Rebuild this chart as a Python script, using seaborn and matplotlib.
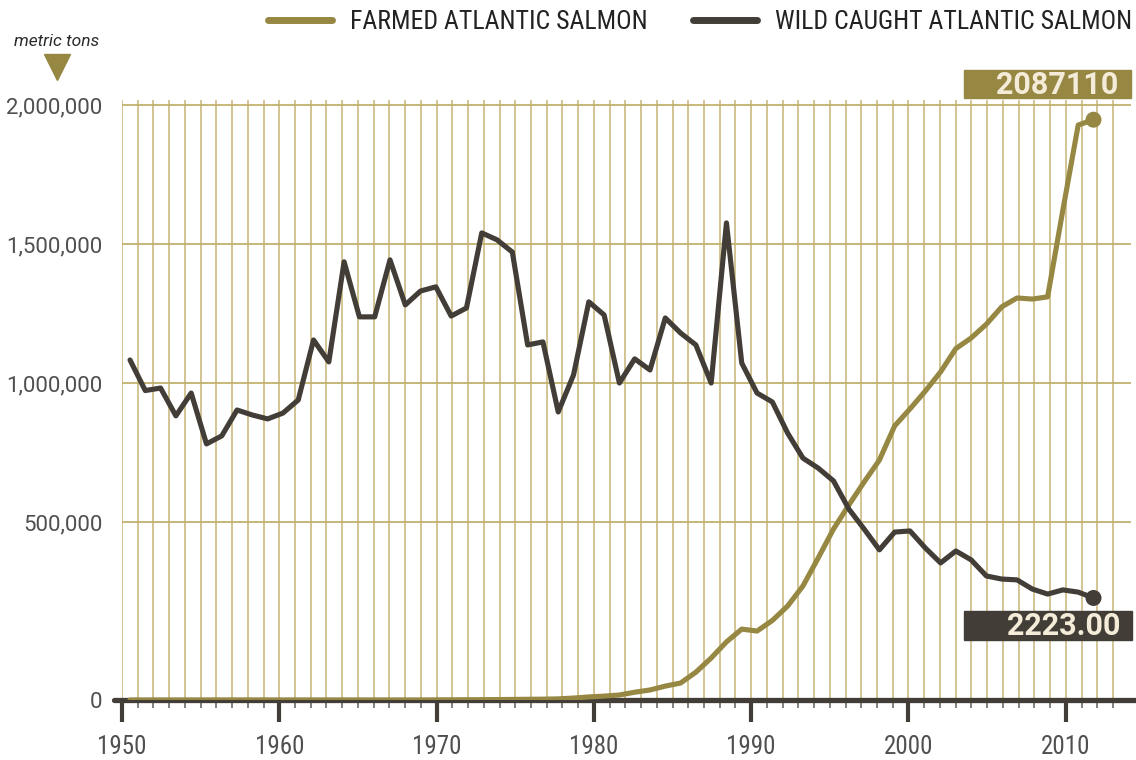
import numpy as np
import pandas as pd
import matplotlib.pyplot as plt
import seaborn as sns
from matplotlib import font_manager
from matplotlib.lines import Line2D
from matplotlib.patches import Rectangle

# data (metric tons)
years = list(range(1950, 2014))
wild_tons = [1223000, 1113000, 1122000, 1022000, 1104000, 921000, 950000, 1043000,
             1025000, 1011000, 1032000, 1079000, 1295000, 1216000, 1576000, 1378000,
             1378000, 1583000, 1421000, 1471000, 1486000, 1381000, 1410000, 1680000,
             1655000, 1611000, 1277000, 1288000, 1036000, 1169000, 1432000, 1385000,
             1140000, 1227000, 1187000, 1374000, 1320000, 1277000, 1140000, 1716000,
             1212000, 1104000, 1072000, 960000, 870000, 834000, 788000, 687000,
             615000, 540000, 604000, 608000, 547000, 493000, 536000, 504000,
             446000, 435000, 432000, 399000, 381000, 396000, 388000, 367000]
farmed_tons = [0, 0, 0, 0, 0, 0, 0, 0, 0, 0, 0, 0, 0, 0, 0, 0, 0, 0, 0, 0,
               300, 500, 800, 1000, 1500, 2000, 2500, 3000, 4000, 7000, 11000, 14000,
               18000, 28000, 36000, 50000, 61000, 100000, 151000, 209000,
               255000, 248000, 286000, 338000, 410000, 511000, 615000, 701000,
               784000, 863000, 986000, 1047000, 1111000, 1180000, 1264000, 1302000,
               1352000, 1414000, 1446000, 1442000, 1450000, 1763000, 2068000, 2087110]
series_names = ['FARMED ATLANTIC SALMON', 'WILD CAUGHT ATLANTIC SALMON']
end_labels = ['2087110', '2223.00']
y_tick_labels = ['0', '500,000', '1,000,000', '1,500,000', '2,000,000']
decades = [1950, 1960, 1970, 1980, 1990, 2000, 2010]

OLIVE = '#968843'
DARK = '#423e37'

sns.set_style('white')
installed = {f.name for f in font_manager.fontManager.ttflist}
# condensed face if there is one, otherwise plain Roboto a bit smaller
if 'Roboto Condensed' in installed:
    narrow, xsize, legsize = 'Roboto Condensed', 18, 18.5
elif 'Liberation Sans Narrow' in installed:
    narrow, xsize, legsize = 'Liberation Sans Narrow', 18, 18.5
else:
    narrow, xsize, legsize = 'Roboto', 15.5, 16.3
plt.rcParams['font.family'] = ['Roboto', 'DejaVu Sans']

df = pd.DataFrame({
    'year': years + years,
    'tons': farmed_tons + wild_tons,
    'series': [series_names[0]] * len(years) + [series_names[1]] * len(years),
})

W, H = 1136, 760
fig = plt.figure(figsize=(W / 100, H / 100), dpi=100)
L, R, T, B = 122, 1131, 100, 700
ax = fig.add_axes([L / W, 1 - B / H, (R - L) / W, (B - T) / H])

# year grid (one line per year)
ax.set_xlim(1950, 1950 + (R - L) / 15.73)
ax.set_ylim(0, 2158000)
ax.set_xticks(decades, [str(d) for d in decades])
ax.set_xticks(years, minor=True)
ax.set_yticks([0, 640000, 1140000, 1640000, 2140000], y_tick_labels)
ax.grid(axis='x', which='both', color='#d2c493', lw=1.4)
ax.grid(axis='y', which='major', color='#c2b26e', lw=1.3)
for s in ax.spines.values():
    s.set_visible(False)
ax.tick_params(axis='y', length=0, pad=14, labelsize=16, labelcolor='#505050')
ax.tick_params(axis='x', which='major', direction='out', length=16, width=3,
               color=DARK, pad=9, labelsize=xsize, labelcolor='#505050')
ax.tick_params(axis='x', which='minor', direction='out', length=6, width=1.3, color='#777777')
for lab in ax.get_xticklabels():
    lab.set_family(narrow)
ax.axhline(0, xmin=-8 / (R - L), xmax=1 + 5 / (R - L), color=DARK, lw=3.8,
           clip_on=False, zorder=2.6)

# series drawn on their own x scale, as in the original
ax2 = ax.twiny()
ax2.set_xlim(1950 - 8 / 15.294, 2013 + (R - 1093.5) / 15.294)
ax2.set_axis_off()
sns.lineplot(data=df, x='year', y='tons', hue='series', palette=[OLIVE, DARK],
             lw=3.7, legend=False, ax=ax2, zorder=3)
ax2.scatter([years[-1], years[-1]], [farmed_tons[-1], wild_tons[-1]],
            color=[OLIVE, DARK], s=110, zorder=4, clip_on=False)

handles = [Line2D([], [], color=c, lw=5, solid_capstyle='round') for c in (OLIVE, DARK)]
fig.legend(handles, series_names, loc='center', bbox_to_anchor=(700 / W, 1 - 22 / H),
           ncol=2, frameon=False, prop={'family': narrow, 'size': legsize},
           handlelength=2.5, handletextpad=0.7, columnspacing=1.75, labelcolor='#222222')

fig.text(57 / W, 1 - 42 / H, 'metric tons', style='italic', size=12.5,
         ha='center', va='center', color='#2a2a2a')
fig.add_artist(Line2D([57 / W], [1 - 67 / H], marker='v', ms=19, color=OLIVE,
                      transform=fig.transFigure))

fig.add_artist(Rectangle((964 / W, 1 - 98 / H), 167 / W, 28 / H,
                         transform=fig.transFigure, color=OLIVE))
fig.text(1118 / W, 1 - 85 / H, end_labels[0], ha='right', va='center', size=22,
         weight='bold', color='#f4ecd9')
fig.add_artist(Rectangle((964 / W, 1 - 640 / H), 168 / W, 29 / H,
                         transform=fig.transFigure, color=DARK))
fig.text(1120 / W, 1 - 626 / H, end_labels[1], ha='right', va='center', size=22,
         weight='bold', color='#f4ecd9')

fig.savefig('out.png', dpi=100)
